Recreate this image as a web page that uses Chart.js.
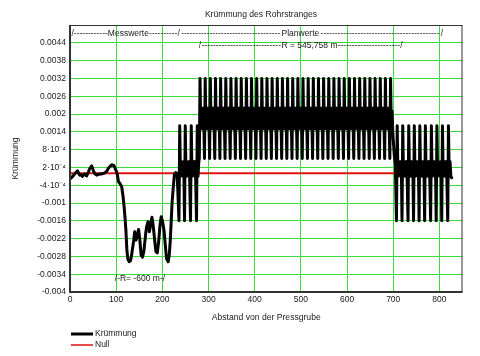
<!DOCTYPE html>
<html><head><meta charset="utf-8">
<script src="https://cdn.jsdelivr.net/npm/chart.js@4/dist/chart.umd.min.js"></script>
<style>html,body{margin:0;padding:0;background:#fff;}canvas{display:block;}</style>
</head><body>
<canvas id="c" width="480" height="356"></canvas>
<script>
// ---------- data ----------
const chartTitle = 'Krümmung des Rohrstranges';
const xAxisTitle = 'Abstand von der Pressgrube';
const yAxisTitle = 'Krümmung';
const seriesNames = ['Krümmung', 'Null'];

const yTickValues = [-0.004, -0.0034, -0.0028, -0.0022, -0.0016, -0.001, -0.0004, 0.0002, 0.0008, 0.0014, 0.002, 0.0026, 0.0032, 0.0038, 0.0044];
const yTickLabels = ['-0.004', '-0.0034', '-0.0028', '-0.0022', '-0.0016', '-0.001', '-4·10⁻⁴', '2·10⁻⁴', '8·10⁻⁴', '0.0014', '0.002', '0.0026', '0.0032', '0.0038', '0.0044'];

// Messwerte (measured section)
const messDistance = [2, 6, 11, 16, 21, 24, 27, 31, 36, 40,
  43, 47, 50, 53, 58, 63, 69, 76, 80, 83,
  87, 91, 95, 99, 102, 105, 108, 112, 115, 117,
  119, 121, 123, 125, 128, 131, 133, 136, 138.5, 140,
  143, 146, 148.5, 151, 154, 157, 160, 164, 166, 169,
  172, 175, 177.5, 180, 183, 186, 189, 192, 195, 197.5,
  200.5, 203.5, 206, 209, 212.5, 215, 217, 219, 221, 223.5,
  226, 229, 232];
const messCurvature = [-0.00017, -0.00010, 0, 0.00009, -0.00006, -0.00004, -0.00011, -0.00002, -0.00009, 0.00005,
  0.00017, 0.00025, 0.00012, 0, -0.00006, -0.00003, -0.00002, 0.00002, 0.00008, 0.00017,
  0.00024, 0.00029, 0.00026, 0.00012, 0, -0.00028, -0.00034, -0.00045, -0.00079, -0.00110,
  -0.00146, -0.00190, -0.00253, -0.00287, -0.00298, -0.00294, -0.00280, -0.00247, -0.00220, -0.00197,
  -0.00225, -0.00205, -0.00189, -0.00220, -0.00275, -0.00283, -0.00262, -0.00202, -0.00180, -0.00163,
  -0.00197, -0.00168, -0.00148, -0.00175, -0.00220, -0.00264, -0.00268, -0.00230, -0.00174, -0.00146,
  -0.00163, -0.00190, -0.00235, -0.00287, -0.00298, -0.00275, -0.00230, -0.00168, -0.00100, -0.00050,
  -0.00005, 0.00003, 0];

// straight section before the curve
const straight1Distance = [
  236, 237.6, 239.2, 241.6, 244, 246.4,
  248, 249.6, 251.2, 253.6, 256, 258.4,
  261, 262.6, 264.2, 266.6, 269, 271.4,
  274, 275.6, 277.2, 279];
const straight1Curvature = [
  -0.0016, 0.0016, -0.0001, 0.0004, -0.0001, 0.0004,
  -0.0016, 0.0016, -0.0001, 0.0004, -0.0001, 0.0004,
  -0.0016, 0.0016, -0.0001, 0.0004, -0.0001, 0.0004,
  -0.0016, 0.0016, -0.0001, 0.0004];

// Planwerte curve section R = 545,758 m
const planDistance = [
  280, 281.6, 283.2, 285.2, 287.2, 289.2,
  291.2, 292.8, 294.4, 296.4, 298.4, 300.4,
  302.3, 303.9, 305.5, 307.5, 309.5, 311.5,
  313.5, 315.1, 316.7, 318.7, 320.7, 322.7,
  324.6, 326.2, 327.8, 329.8, 331.8, 333.8,
  335.8, 337.4, 339, 341, 343, 345,
  346.9, 348.5, 350.1, 352.1, 354.1, 356.1,
  358.1, 359.7, 361.3, 363.3, 365.3, 367.3,
  369.2, 370.8, 372.4, 374.4, 376.4, 378.4,
  380.4, 382, 383.6, 385.6, 387.6, 389.6,
  391.5, 393.1, 394.7, 396.7, 398.7, 400.7,
  402.7, 404.3, 405.9, 407.9, 409.9, 411.9,
  413.8, 415.4, 417, 419, 421, 423,
  425, 426.6, 428.2, 430.2, 432.2, 434.2,
  436.1, 437.7, 439.3, 441.3, 443.3, 445.3,
  447.3, 448.9, 450.5, 452.5, 454.5, 456.5,
  458.4, 460, 461.6, 463.6, 465.6, 467.6,
  469.6, 471.2, 472.8, 474.8, 476.8, 478.8,
  480.7, 482.3, 483.9, 485.9, 487.9, 489.9,
  491.9, 493.5, 495.1, 497.1, 499.1, 501.1,
  503, 504.6, 506.2, 508.2, 510.2, 512.2,
  514.2, 515.8, 517.4, 519.4, 521.4, 523.4,
  525.3, 526.9, 528.5, 530.5, 532.5, 534.5,
  536.5, 538.1, 539.7, 541.7, 543.7, 545.7,
  547.6, 549.2, 550.8, 552.8, 554.8, 556.8,
  558.8, 560.4, 562, 564, 566, 568,
  569.9, 571.5, 573.1, 575.1, 577.1, 579.1,
  581.1, 582.7, 584.3, 586.3, 588.3, 590.3,
  592.2, 593.8, 595.4, 597.4, 599.4, 601.4,
  603.4, 605, 606.6, 608.6, 610.6, 612.6,
  614.5, 616.1, 617.7, 619.7, 621.7, 623.7,
  625.7, 627.3, 628.9, 630.9, 632.9, 634.9,
  636.8, 638.4, 640, 642, 644, 646,
  648, 649.6, 651.2, 653.2, 655.2, 657.2,
  659.1, 660.7, 662.3, 664.3, 666.3, 668.3,
  670.3, 671.9, 673.5, 675.5, 677.5, 679.5,
  681.4, 683, 684.6, 686.6, 688.6, 690.6,
  692.6, 694.2, 695.8, 697.4, 699, 700.6, 702.4, 704.5];
const planCurvature = [
  0.0005, 0.0032, 0.0015, 0.0022, 0.0015, 0.0022,
  0.0005, 0.0032, 0.0015, 0.0022, 0.0015, 0.0022,
  0.0005, 0.0032, 0.0015, 0.0022, 0.0015, 0.0022,
  0.0005, 0.0032, 0.0015, 0.0022, 0.0015, 0.0022,
  0.0005, 0.0032, 0.0015, 0.0022, 0.0015, 0.0022,
  0.0005, 0.0032, 0.0015, 0.0022, 0.0015, 0.0022,
  0.0005, 0.0032, 0.0015, 0.0022, 0.0015, 0.0022,
  0.0005, 0.0032, 0.0015, 0.0022, 0.0015, 0.0022,
  0.0005, 0.0032, 0.0015, 0.0022, 0.0015, 0.0022,
  0.0005, 0.0032, 0.0015, 0.0022, 0.0015, 0.0022,
  0.0005, 0.0032, 0.0015, 0.0022, 0.0015, 0.0022,
  0.0005, 0.0032, 0.0015, 0.0022, 0.0015, 0.0022,
  0.0005, 0.0032, 0.0015, 0.0022, 0.0015, 0.0022,
  0.0005, 0.0032, 0.0015, 0.0022, 0.0015, 0.0022,
  0.0005, 0.0032, 0.0015, 0.0022, 0.0015, 0.0022,
  0.0005, 0.0032, 0.0015, 0.0022, 0.0015, 0.0022,
  0.0005, 0.0032, 0.0015, 0.0022, 0.0015, 0.0022,
  0.0005, 0.0032, 0.0015, 0.0022, 0.0015, 0.0022,
  0.0005, 0.0032, 0.0015, 0.0022, 0.0015, 0.0022,
  0.0005, 0.0032, 0.0015, 0.0022, 0.0015, 0.0022,
  0.0005, 0.0032, 0.0015, 0.0022, 0.0015, 0.0022,
  0.0005, 0.0032, 0.0015, 0.0022, 0.0015, 0.0022,
  0.0005, 0.0032, 0.0015, 0.0022, 0.0015, 0.0022,
  0.0005, 0.0032, 0.0015, 0.0022, 0.0015, 0.0022,
  0.0005, 0.0032, 0.0015, 0.0022, 0.0015, 0.0022,
  0.0005, 0.0032, 0.0015, 0.0022, 0.0015, 0.0022,
  0.0005, 0.0032, 0.0015, 0.0022, 0.0015, 0.0022,
  0.0005, 0.0032, 0.0015, 0.0022, 0.0015, 0.0022,
  0.0005, 0.0032, 0.0015, 0.0022, 0.0015, 0.0022,
  0.0005, 0.0032, 0.0015, 0.0022, 0.0015, 0.0022,
  0.0005, 0.0032, 0.0015, 0.0022, 0.0015, 0.0022,
  0.0005, 0.0032, 0.0015, 0.0022, 0.0015, 0.0022,
  0.0005, 0.0032, 0.0015, 0.0022, 0.0015, 0.0022,
  0.0005, 0.0032, 0.0015, 0.0022, 0.0015, 0.0022,
  0.0005, 0.0032, 0.0015, 0.0022, 0.0015, 0.0022,
  0.0005, 0.0032, 0.0015, 0.0022, 0.0015, 0.0022,
  0.0005, 0.0032, 0.0015, 0.0022, 0.0015, 0.0022,
  0.0005, 0.0032, 0.0015, 0.0021, 0.0014, 0.0010, 0.0006, 0.0003];

// straight section after the curve
const straight2Distance = [
  707, 708.6, 710.2, 712.6, 715, 717.4,
  719, 720.6, 722.2, 724.6, 727, 729.4,
  732, 733.6, 735.2, 737.6, 740, 742.4,
  744, 745.6, 747.2, 749.6, 752, 754.4,
  756, 757.6, 759.2, 761.6, 764, 766.4,
  768, 769.6, 771.2, 773.6, 776, 778.4,
  781, 782.6, 784.2, 786.6, 789, 791.4,
  793, 794.6, 796.2, 798.6, 801, 803.4,
  805, 806.6, 808.2, 810.6, 813, 815.4,
  818, 819.6, 821.2, 823, 824.8, 826.5];
const straight2Curvature = [
  -0.0016, 0.0016, -0.0001, 0.0004, -0.0001, 0.0004,
  -0.0016, 0.0016, -0.0001, 0.0004, -0.0001, 0.0004,
  -0.0016, 0.0016, -0.0001, 0.0004, -0.0001, 0.0004,
  -0.0016, 0.0016, -0.0001, 0.0004, -0.0001, 0.0004,
  -0.0016, 0.0016, -0.0001, 0.0004, -0.0001, 0.0004,
  -0.0016, 0.0016, -0.0001, 0.0004, -0.0001, 0.0004,
  -0.0016, 0.0016, -0.0001, 0.0004, -0.0001, 0.0004,
  -0.0016, 0.0016, -0.0001, 0.0004, -0.0001, 0.0004,
  -0.0016, 0.0016, -0.0001, 0.0004, -0.0001, 0.0004,
  -0.0016, 0.0016, -0.0001, 0.0004, -0.0001, -0.00015];

const nullDistance = [0, 825];
const nullCurvature = [0, 0];

// ---------- build ----------
const kDist = [].concat(messDistance, straight1Distance, planDistance, straight2Distance);
const kCurv = [].concat(messCurvature, straight1Curvature, planCurvature, straight2Curvature);
const kPoints = kDist.map((x, i) => ({x: x, y: kCurv[i]}));
const nPoints = nullDistance.map((x, i) => ({x: x, y: nullCurvature[i]}));

const FAM = "'Liberation Sans', Arial, sans-serif";
const TXT = '#1a1a1a';
const GRID = '#3ddc3d';

function dashedRule(ctx, tokens, y) {
  const dashW = ctx.measureText('-').width;
  for (let i = 0; i < tokens.length; i++) {
    const t = tokens[i];
    ctx.fillText(t[0], t[1], y);
    if (i < tokens.length - 1) {
      const start = t[1] + ctx.measureText(t[0]).width;
      const end = tokens[i + 1][1];
      const n = Math.max(0, Math.floor((end - start) / dashW));
      ctx.fillText('-'.repeat(n), start + ((end - start) - n * dashW) / 2, y);
    }
  }
}

const decor = {
  id: 'decor',
  afterDatasetsDraw(chart) {
    const ctx = chart.ctx, a = chart.chartArea;
    const xs = chart.scales.x, ys = chart.scales.y;
    ctx.save();
    ctx.strokeStyle = '#333';
    ctx.lineWidth = 1;
    ctx.strokeRect(a.left + 0.5, a.top + 0.5, a.right - a.left - 1, a.bottom - a.top - 1);
    ctx.lineWidth = 2;
    ctx.beginPath();
    ctx.moveTo(a.left, a.top); ctx.lineTo(a.left, a.bottom); ctx.lineTo(a.right, a.bottom);
    ctx.stroke();
    ctx.fillStyle = TXT;
    ctx.font = '8.5px ' + FAM;
    ctx.textBaseline = 'middle';
    ctx.textAlign = 'left';
    const px = v => xs.getPixelForValue(v);
    dashedRule(ctx, [['/', px(3)], ['Messwerte', px(82)], ['/', px(233)], ['Planwerte', px(458)], ['/', px(803)]], ys.getPixelForValue(0.00471));
    dashedRule(ctx, [['/', px(279)], ['R = 545,758 m', px(458)], ['/', px(715)]], ys.getPixelForValue(0.00431));
    ctx.fillText('/-R= -600 m-/', px(97), ys.getPixelForValue(-0.00354));
    ctx.restore();
  },
  afterDraw(chart) {
    const ctx = chart.ctx;
    ctx.save();
    ctx.fillStyle = TXT;
    ctx.textBaseline = 'middle';
    ctx.textAlign = 'center';
    ctx.font = '8.6px ' + FAM;
    ctx.fillText(chartTitle, 261, 15);
    ctx.textAlign = 'left';
    ctx.font = '8.5px ' + FAM;
    ctx.strokeStyle = '#000'; ctx.lineWidth = 3;
    ctx.beginPath(); ctx.moveTo(71, 334); ctx.lineTo(93, 334); ctx.stroke();
    ctx.fillText(seriesNames[0], 95, 334);
    ctx.strokeStyle = '#e01010'; ctx.lineWidth = 1.5;
    ctx.beginPath(); ctx.moveTo(71, 345); ctx.lineTo(93, 345); ctx.stroke();
    ctx.fillText(seriesNames[1], 95, 345);
    ctx.restore();
  }
};

new Chart(document.getElementById('c'), {
  type: 'line',
  data: {
    datasets: [
      {label: seriesNames[0], data: kPoints, borderColor: '#000', borderWidth: 3, pointRadius: 0, borderJoinStyle: 'round', borderCapStyle: 'round', tension: 0.00001, capBezierPoints: false, fill: false},
      {label: seriesNames[1], data: nPoints, borderColor: '#e01010', borderWidth: 2, pointRadius: 0, tension: 0, fill: false}
    ]
  },
  options: {
    responsive: false,
    animation: false,
    devicePixelRatio: 1,
    events: [],
    layout: {padding: {left: 0, right: 17.5, top: 25, bottom: 0}},
    plugins: {legend: {display: false}, title: {display: false}, tooltip: {enabled: false}},
    scales: {
      x: {
        type: 'linear', min: 0, max: 850,
        ticks: {stepSize: 100, includeBounds: false, padding: 3, color: TXT, font: {family: FAM, size: 8.5}, maxRotation: 0, autoSkip: false},
        grid: {color: GRID, lineWidth: 1, drawTicks: false},
        border: {display: false},
        title: {display: true, text: xAxisTitle, color: TXT, font: {family: FAM, size: 8.6}, padding: {top: 0, bottom: 32.8}},
        afterFit(s) { s.height = 64; }
      },
      y: {
        type: 'linear', min: -0.004, max: 0.005,
        ticks: {
          stepSize: 0.0006, padding: 4, color: TXT, font: {family: FAM, size: 8.5}, autoSkip: false,
          callback: (v) => { const i = yTickValues.findIndex(t => Math.abs(t - v) < 1e-9); return i >= 0 ? yTickLabels[i] : ''; }
        },
        grid: {color: GRID, lineWidth: 1, drawTicks: false},
        border: {display: false},
        title: {display: true, text: yAxisTitle, color: TXT, font: {family: FAM, size: 8.6}, padding: {top: 10, bottom: 0}},
        afterFit(s) { s.width = 70; }
      }
    }
  },
  plugins: [decor]
});
</script>
</body></html>
